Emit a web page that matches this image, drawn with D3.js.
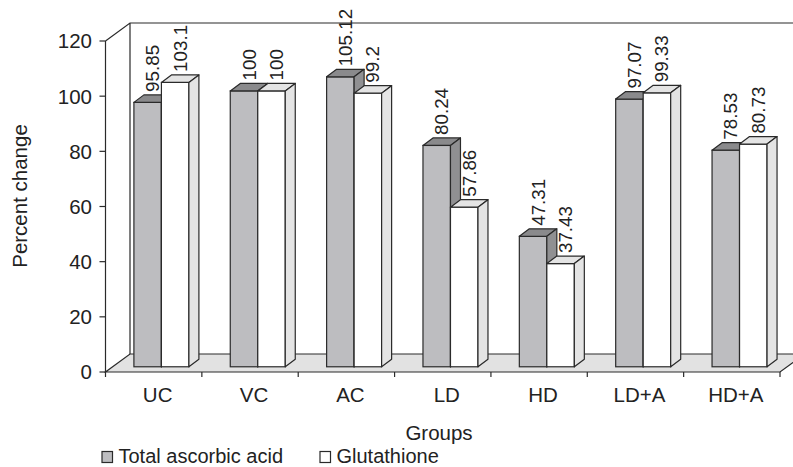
<!DOCTYPE html>
<html>
<head>
<meta charset="utf-8">
<script src="https://cdn.jsdelivr.net/npm/d3@7"></script>
<style>
  body { margin: 0; background: #fff; }
  text { font-family: "Liberation Sans", Arial, sans-serif; fill: #222; }
</style>
</head>
<body>
<svg id="chart" width="793" height="467"></svg>
<script>
var groups = ["UC", "VC", "AC", "LD", "HD", "LD+A", "HD+A"];
var ascorbic = [95.85, 100, 105.12, 80.24, 47.31, 97.07, 78.53];
var glutathione = [103.1, 100, 99.2, 57.86, 37.43, 99.33, 80.73];
var series_names = ["Total ascorbic acid", "Glutathione"];
var y_ticks = [0, 20, 40, 60, 80, 100, 120];

var svg = d3.select("#chart");

// front plane scales
var x = d3.scaleBand().domain(groups).range([105.5, 780]);
var y = d3.scaleLinear().domain([0, 120]).range([372, 41]);

// depth of the box and of the bars
var DX = 24.5, DY = -18;
var ox = DX * 0.29, oy = DY * 0.29;   // bars sit in the middle of the depth
var bdx = 10, bdy = -7.5;
var barW = 27.5, barPad = 21.3;

var fills = [
    {front: "#bdbdc0", top: "#8a8a8c", side: "#909092"},
    {front: "#ffffff", top: "#e4e4e4", side: "#e4e4e4"}
];
var stroke = "#2a2a2a";

var x0 = x.range()[0], x1 = x.range()[1];

// back wall + left wall outline
svg.append("path")
    .attr("d", "M" + x0 + "," + y(120) + "L" + (x0 + DX) + "," + (y(120) + DY) +
        "L" + (x1 + DX + 20) + "," + (y(120) + DY) +
        "M" + (x0 + DX) + "," + (y(120) + DY) + "L" + (x0 + DX) + "," + (y(0) + DY))
    .attr("fill", "none").attr("stroke", stroke).attr("stroke-width", 1.2);

// floor
svg.append("polygon")
    .attr("points", [[x0, y(0)], [x1, y(0)], [x1 + DX, y(0) + DY], [x0 + DX, y(0) + DY]].join(" "))
    .attr("fill", "#e2e2e2").attr("stroke", stroke).attr("stroke-width", 1.2);

// bars
var rows = [];
groups.forEach(function (g, i) {
    [ascorbic[i], glutathione[i]].forEach(function (v, s) {
        rows.push({group: g, value: v, series: s});
    });
});

var bars = svg.append("g").attr("class", "bars")
    .selectAll("g").data(rows).enter().append("g");

function geom(d) {
    var bx = x(d.group) + barPad + d.series * barW + ox;
    return {l: bx, r: bx + barW, t: y(d.value) + oy, b: y(0) + oy};
}

bars.append("rect")
    .attr("x", function (d) { return geom(d).l; })
    .attr("y", function (d) { return geom(d).t; })
    .attr("width", barW)
    .attr("height", function (d) { var g = geom(d); return g.b - g.t; })
    .attr("fill", function (d) { return fills[d.series].front; })
    .attr("stroke", stroke).attr("stroke-width", 1.2);

bars.append("polygon")
    .attr("points", function (d) {
        var g = geom(d);
        return [[g.l, g.t], [g.r, g.t], [g.r + bdx, g.t + bdy], [g.l + bdx, g.t + bdy]].join(" ");
    })
    .attr("fill", function (d) { return fills[d.series].top; })
    .attr("stroke", stroke).attr("stroke-width", 1.2).attr("stroke-linejoin", "round");

bars.append("polygon")
    .attr("points", function (d) {
        var g = geom(d);
        return [[g.r, g.t], [g.r + bdx, g.t + bdy], [g.r + bdx, g.b + bdy], [g.r, g.b]].join(" ");
    })
    .attr("fill", function (d) { return fills[d.series].side; })
    .attr("stroke", stroke).attr("stroke-width", 1.2).attr("stroke-linejoin", "round");

// value labels
bars.append("text")
    .attr("transform", function (d) {
        var g = geom(d);
        var cx = g.l + barW / 2 + bdx / 2 + 6.5;
        return "translate(" + cx + "," + (g.t + bdy - 3) + ") rotate(-90)";
    })
    .attr("font-size", 18.8)
    .text(function (d) { return d.value; });

// y axis
svg.append("line")
    .attr("x1", x0).attr("x2", x0).attr("y1", y(120)).attr("y2", y(0))
    .attr("stroke", stroke).attr("stroke-width", 1.2);
var yAx = svg.append("g").selectAll("g").data(y_ticks).enter().append("g");
yAx.append("line")
    .attr("x1", x0 - 6).attr("x2", x0).attr("y1", function (d) { return y(d); }).attr("y2", function (d) { return y(d); })
    .attr("stroke", stroke).attr("stroke-width", 1.2);
yAx.append("text")
    .attr("x", 92).attr("y", function (d) { return y(d); })
    .attr("dy", "0.36em").attr("text-anchor", "end").attr("font-size", 20.5)
    .text(function (d) { return d; });

// x axis ticks and labels
var bounds = groups.map(function (g) { return x(g); }).concat([x1]);
svg.append("g").selectAll("line").data(bounds).enter().append("line")
    .attr("x1", function (d) { return d; }).attr("x2", function (d) { return d; })
    .attr("y1", y(0)).attr("y2", y(0) + 5)
    .attr("stroke", stroke).attr("stroke-width", 1.2);
svg.append("g").selectAll("text").data(groups).enter().append("text")
    .attr("x", function (d) { return x(d) + x.bandwidth() / 2 + 4; })
    .attr("y", 401.5).attr("text-anchor", "middle").attr("font-size", 20.5)
    .text(function (d) { return d; });

// axis titles
svg.append("text")
    .attr("transform", "translate(27,196) rotate(-90)")
    .attr("text-anchor", "middle").attr("font-size", 20.5)
    .text("Percent change");
svg.append("text")
    .attr("x", 439).attr("y", 440).attr("text-anchor", "middle").attr("font-size", 20.5)
    .text("Groups");

// legend
var legX = [102, 320];
var leg = svg.append("g").selectAll("g").data(series_names).enter().append("g")
    .attr("transform", function (d, i) { return "translate(" + legX[i] + ",451.5)"; });
leg.append("rect").attr("width", 10.5).attr("height", 11)
    .attr("fill", function (d, i) { return fills[i].front; })
    .attr("stroke", stroke).attr("stroke-width", 1.2);
leg.append("text").attr("x", 16.5).attr("y", 11.3).attr("font-size", 20)
    .text(function (d) { return d; });
</script>
</body>
</html>
